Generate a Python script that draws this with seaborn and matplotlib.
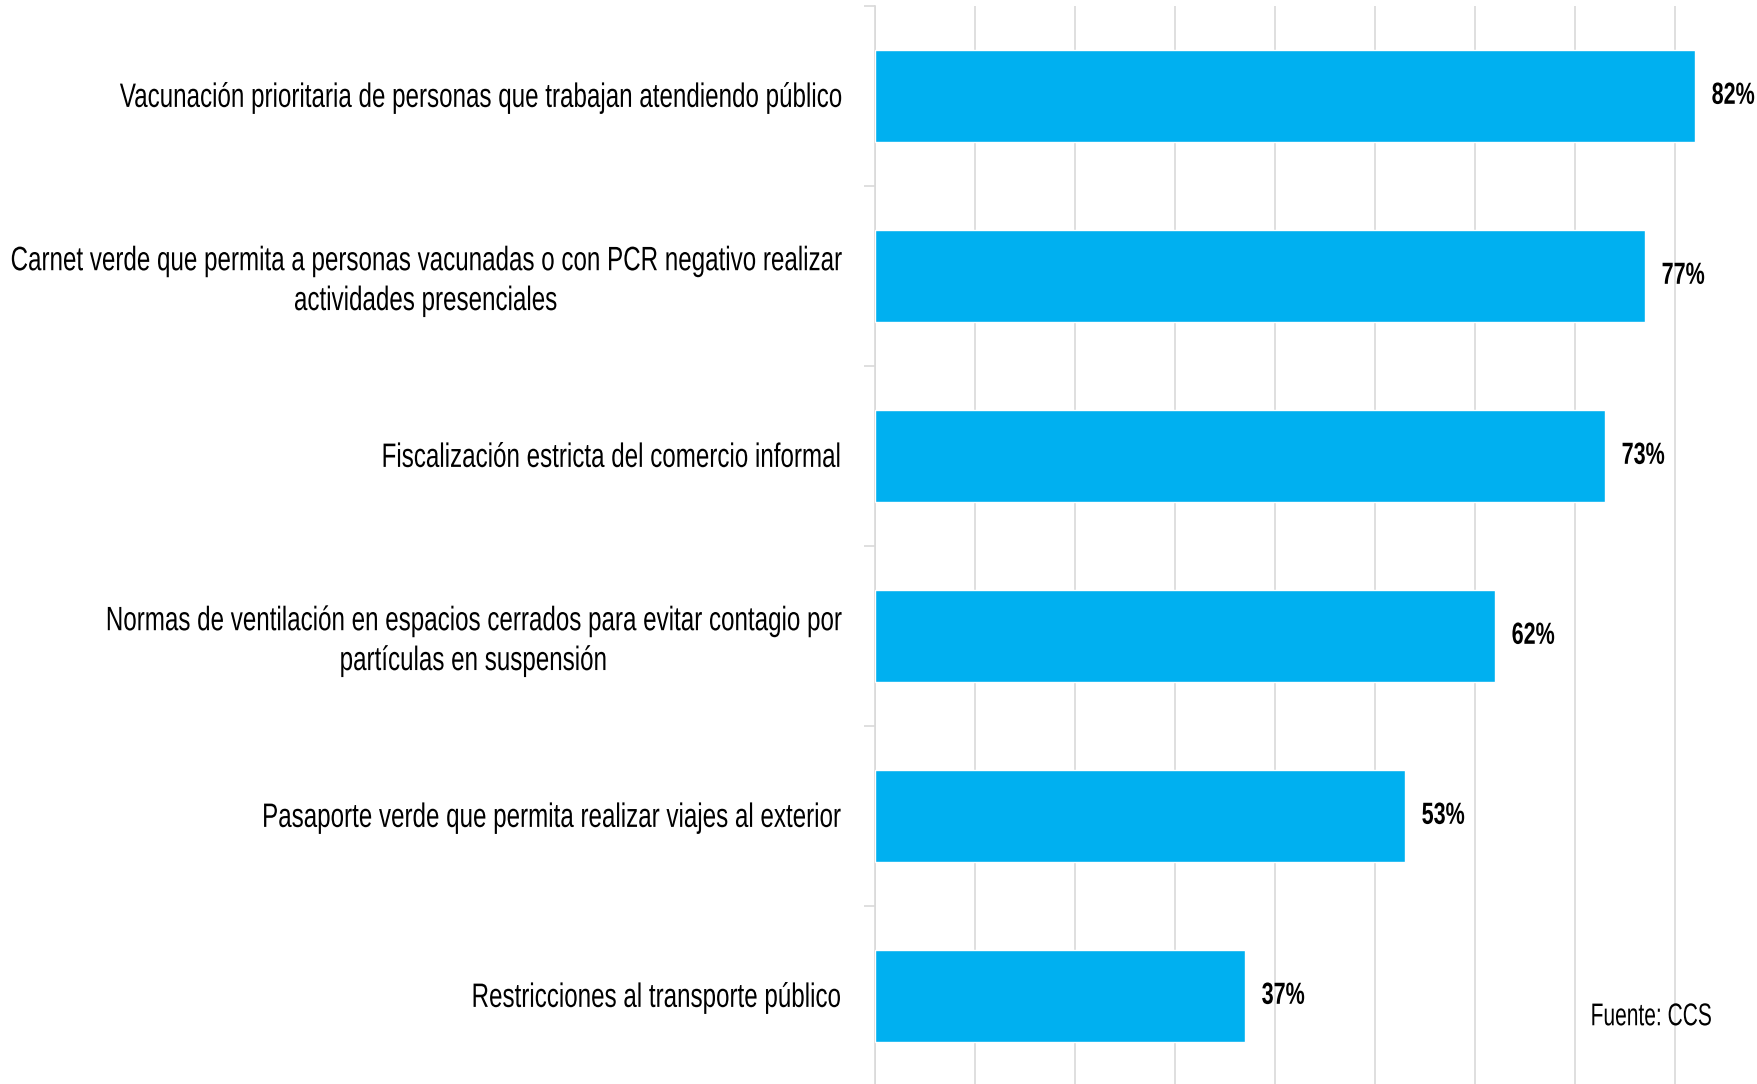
import matplotlib
matplotlib.use("Agg")
import matplotlib.pyplot as plt
import seaborn as sns
import pandas as pd
from matplotlib.patheffects import AbstractPathEffect
from matplotlib.transforms import Affine2D

# Survey results: support for each measure (%)
categories = [
    "Vacunación prioritaria de personas que trabajan atendiendo público",
    "Carnet verde que permita a personas vacunadas o con PCR negativo realizar\nactividades presenciales",
    "Fiscalización estricta del comercio informal",
    "Normas de ventilación en espacios cerrados para evitar contagio por\npartículas en suspensión",
    "Pasaporte verde que permita realizar viajes al exterior",
    "Restricciones al transporte público",
]
values = [82, 77, 73, 62, 53, 37]
source_note = "Fuente: CCS"

BAR_COLOR = "#00B0F0"
GRID_COLOR = "#D9D9D9"


class TallText(AbstractPathEffect):
    """Draw a text's glyphs stretched vertically about the text's centre,
    giving a condensed-looking face while keeping its horizontal layout."""

    def __init__(self, text, sy):
        super().__init__()
        self.text = text
        self.sy = sy

    def draw_path(self, renderer, gc, tpath, affine, rgbFace=None):
        bb = self.text.get_window_extent(renderer)
        cy = 0.5 * (bb.y0 + bb.y1)
        stretch = Affine2D().translate(0, -cy).scale(1, self.sy).translate(0, cy)
        renderer.draw_path(gc, tpath, affine + stretch, rgbFace)


def condense(text, sy):
    text.set_path_effects([TallText(text, sy)])
    return text


sns.set_theme(style="white")
plt.rcParams["font.family"] = ["Liberation Sans", "DejaVu Sans"]

df = pd.DataFrame({"medida": categories, "pct": values})

W, H = 1757, 1084
fig = plt.figure(figsize=(W / 100, H / 100), dpi=100)
fig.patch.set_facecolor("white")

# Plot area: x from 0 to 90 %, one 180 px band per category
ax = fig.add_axes([875 / W, 1 - 1086 / H, 900 / W, 1080 / H])

sns.barplot(data=df, x="pct", y="medida", orient="h", color=BAR_COLOR,
            saturation=1, width=0.51, ax=ax, zorder=3)

ax.set_xlim(0, 90)
ax.set_ylim(len(categories) - 0.5, -0.5)
ax.set_xlabel("")
ax.set_ylabel("")

# Vertical gridlines every 10 %
ax.set_xticks(range(0, 91, 10))
ax.tick_params(axis="x", length=0, labelbottom=False)
ax.grid(axis="x", color=GRID_COLOR, linewidth=1.2, zorder=0)
ax.grid(axis="y", visible=False)

# Category labels, with tick marks at band boundaries
ax.set_yticks(range(len(categories)))
ax.set_yticklabels(categories, fontsize=17.4, color="black",
                   multialignment="center", linespacing=1.38)
ax.tick_params(axis="y", which="major", length=0, pad=25.5)
ax.set_yticks([i - 0.5 for i in range(len(categories) + 1)], minor=True)
ax.tick_params(axis="y", which="minor", length=8, width=1.2,
               color=GRID_COLOR, left=True)
for lbl in ax.get_yticklabels():
    condense(lbl, 1.4)

for side in ["top", "right", "bottom"]:
    ax.spines[side].set_visible(False)
ax.spines["left"].set_color(GRID_COLOR)
ax.spines["left"].set_linewidth(1.2)

# Value labels at the end of each bar
for i, v in enumerate(values):
    t = ax.annotate(f"{v}%", xy=(v, i), xytext=(12, 0),
                    textcoords="offset points", ha="left", va="center",
                    fontsize=15.5, fontweight="bold", color="black",
                    annotation_clip=False)
    condense(t, 1.42)

note = fig.text(1712 / W, 1 - 1017 / H, source_note, ha="right", va="center",
                fontsize=15.1, color="black")
condense(note, 1.5)

fig.savefig("out.png", dpi=100, facecolor="white")
